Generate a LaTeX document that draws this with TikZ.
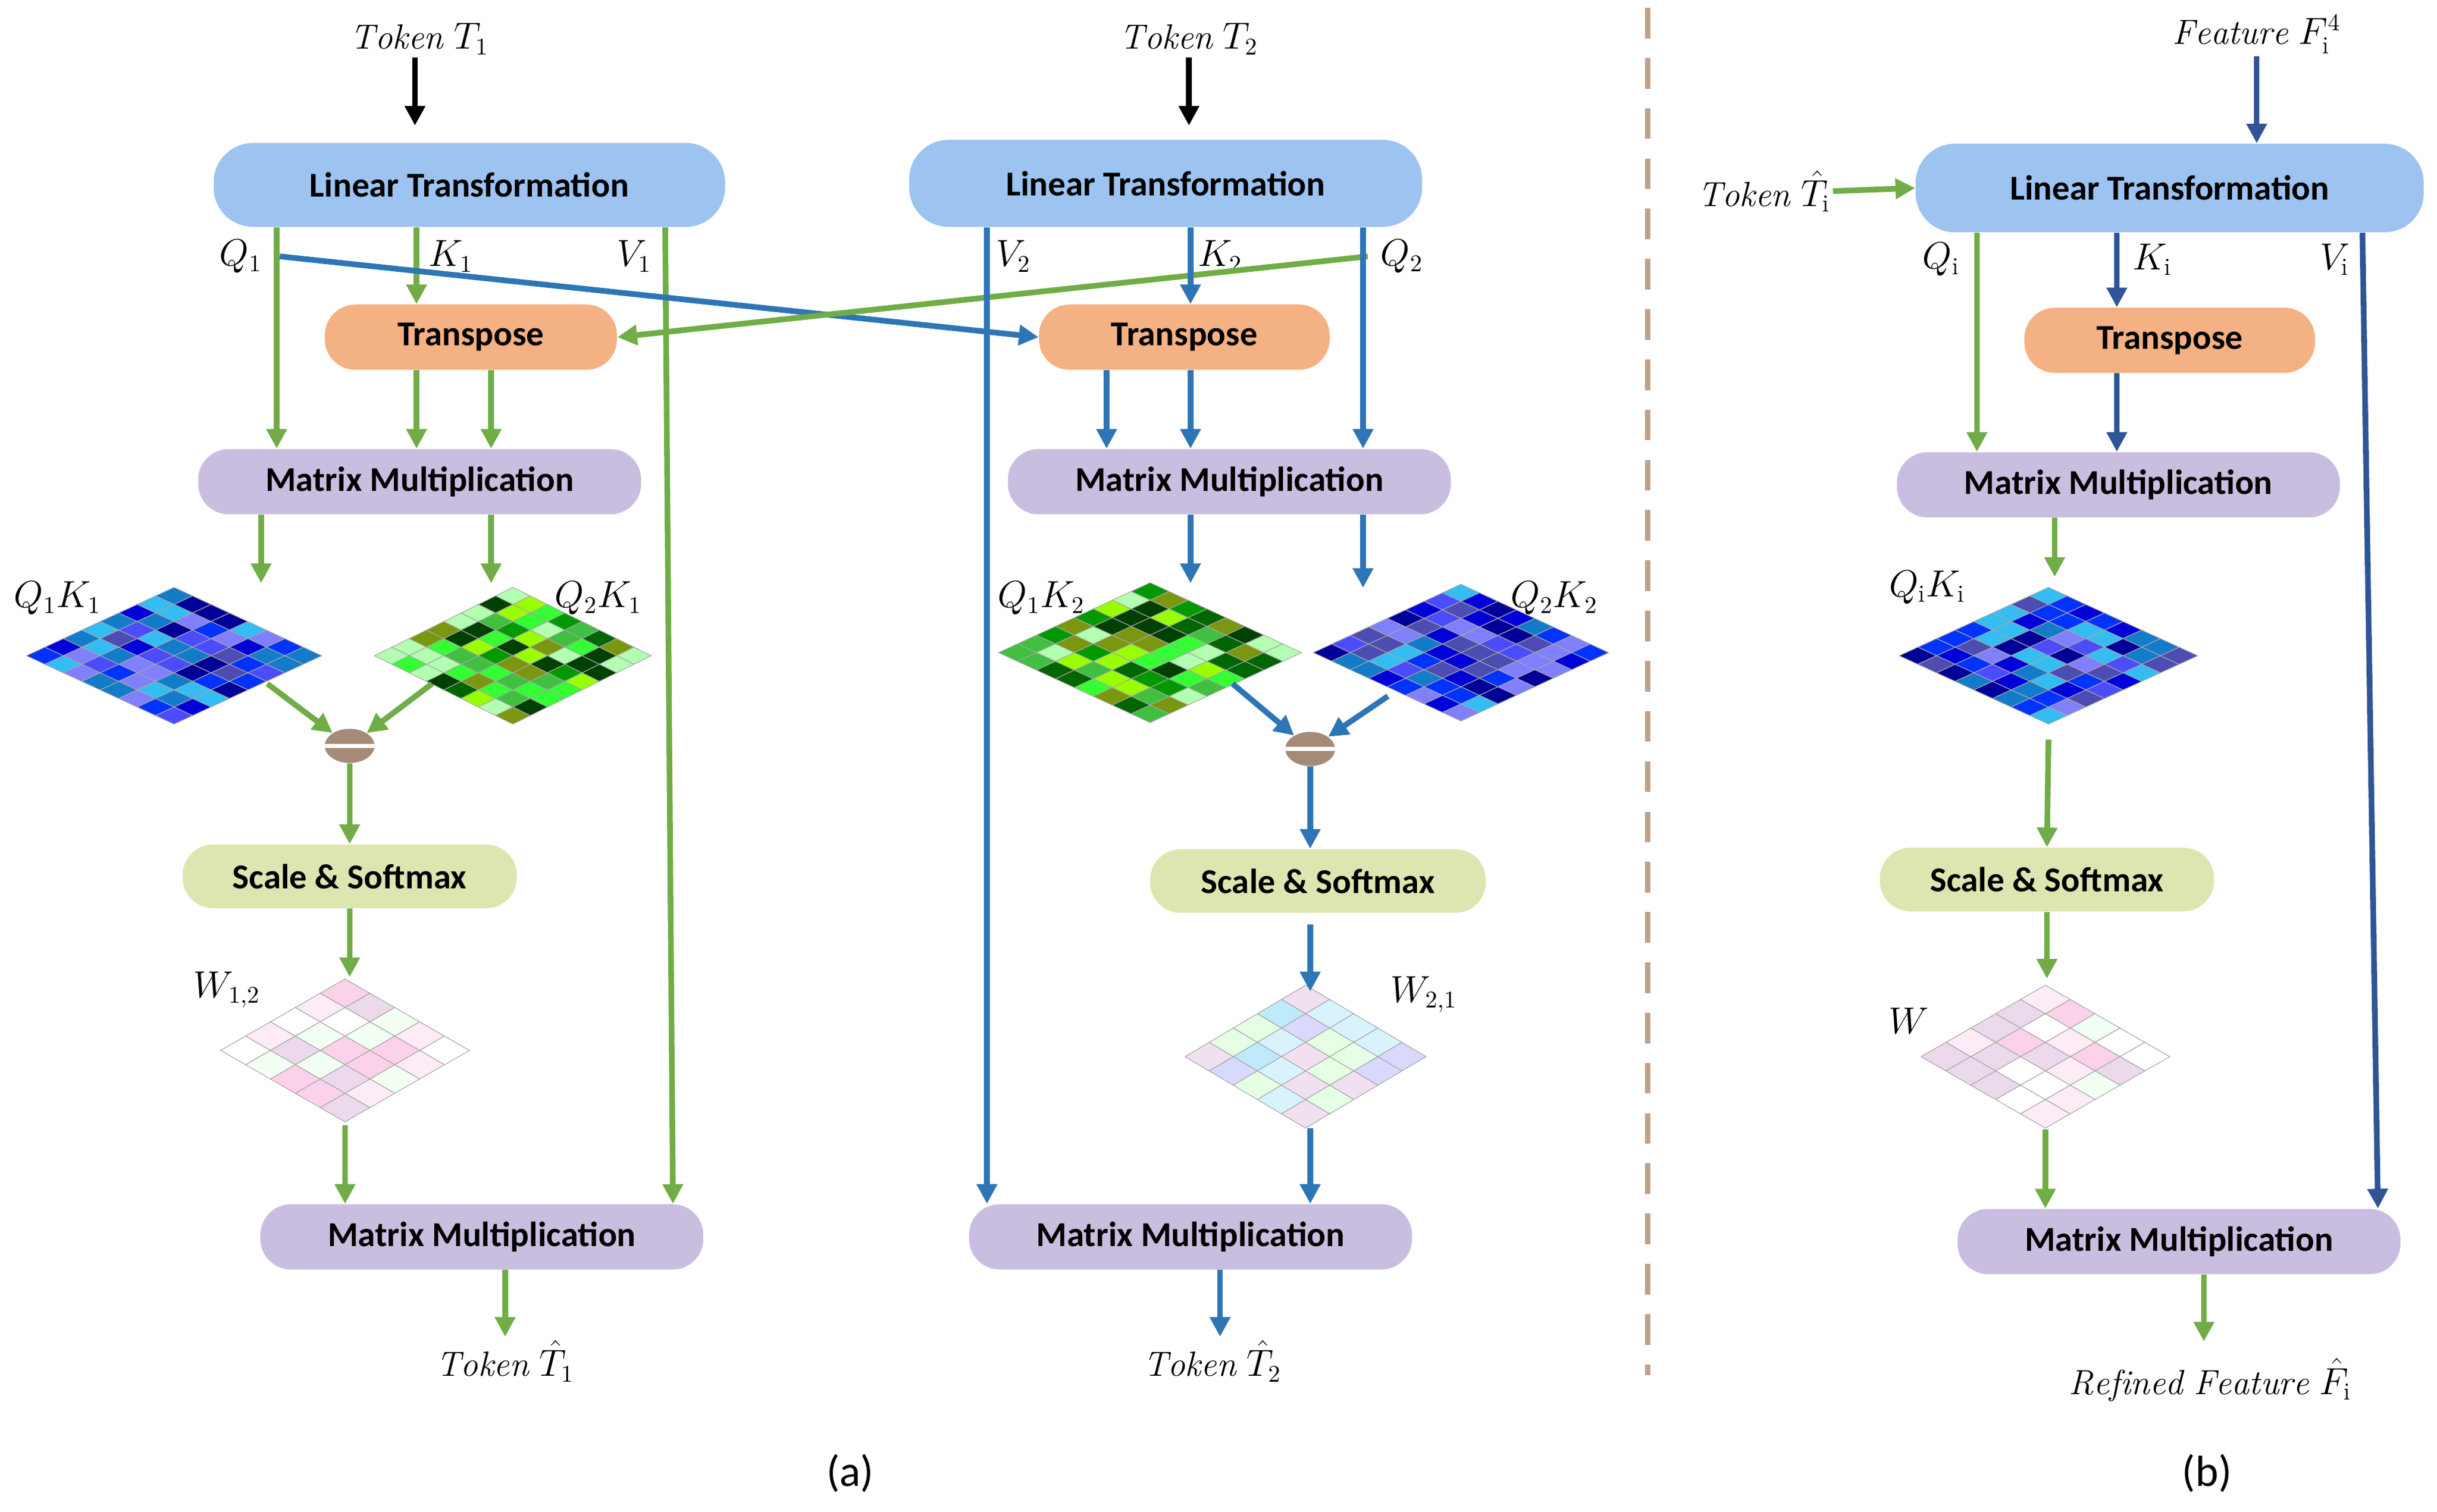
\documentclass[tikz,border=0pt]{standalone}
\usepackage{fontspec}
\newfontfamily\boxfont{Carlito}
\usetikzlibrary{arrows.meta,shapes.geometric}
\definecolor{gr}{HTML}{70AD47}
\definecolor{bl}{HTML}{2E75B6}
\definecolor{dbl}{HTML}{2F5597}
\definecolor{ltbox}{HTML}{9DC3F0}
\definecolor{trbox}{HTML}{F4B183}
\definecolor{mmbox}{HTML}{C9BEDF}
\definecolor{smbox}{HTML}{DCE6B0}
\definecolor{divc}{HTML}{C0A08A}
\definecolor{minc}{HTML}{A68A78}
\pgfmathdeclarerandomlist{blues}{{blue!70}{blue!85!black}{blue!50!white}{cyan!60!blue}{blue!40!gray}{blue!80!cyan}{cyan!80!white}{blue!60!black}}
\pgfmathdeclarerandomlist{greens}{{green!60!black}{green!40!black}{green!80!white}{green!30!white}{olive!70!green}{green!25!black}{lime!80!green}{green!50!gray}}
\pgfmathdeclarerandomlist{pinks}{{magenta!18}{magenta!8}{white}{violet!15}{green!5}}
\pgfmathdeclarerandomlist{cyans}{{cyan!25}{cyan!15}{violet!12}{blue!15}{green!10}}
% cx, cy, width, height, cells, colour list
\newcommand\mgrid[6]{%
  \begin{scope}[shift={(#1,#2)}]
    \pgfmathsetmacro\ax{#3/2/#5}
    \pgfmathsetmacro\ay{#4/2/#5}
    \foreach \i in {1,...,#5}{
      \foreach \j in {1,...,#5}{
        \pgfmathrandomitem{\mc}{#6}
        \filldraw[fill=\mc, draw=gray!70, line width=0.3pt]
          ({(\i-\j)*\ax},{-#4/2+(\i+\j-2)*\ay}) --
          ({(\i-\j+1)*\ax},{-#4/2+(\i+\j-1)*\ay}) --
          ({(\i-\j)*\ax},{-#4/2+(\i+\j)*\ay}) --
          ({(\i-\j-1)*\ax},{-#4/2+(\i+\j-1)*\ay}) -- cycle;
      }}
  \end{scope}}
\tikzset{
  box/.style={rounded corners=18pt, draw=none, inner sep=0pt,
    font=\boxfont\fontsize{16}{19}\selectfont\bfseries},
  lt/.style={box, fill=ltbox},
  tr/.style={box, fill=trbox, rounded corners=14pt},
  mm/.style={box, fill=mmbox, rounded corners=14pt},
  sm/.style={box, fill=smbox, rounded corners=14pt},
  lbl/.style={font=\fontsize{16}{19}\selectfont, inner sep=1pt},
  minus/.style={ellipse, fill=minc, minimum width=32*0.25mm, minimum height=22*0.25mm, inner sep=0pt,
    path picture={\draw[white,line width=2pt] (path picture bounding box.west) -- (path picture bounding box.east);}},
  ar/.style={line width=2.6pt, -{Triangle[length=9pt,width=9pt]}},
  ga/.style={ar, gr}, ba/.style={ar, bl}, da/.style={ar, dbl}, ka/.style={ar, black}
}
\begin{document}
\begin{tikzpicture}[x=0.25mm,y=-0.25mm]
\useasboundingbox (0,0) rectangle (1568,973);
\pgfmathsetseed{7}
% ---------- left branch
\node[lbl] (t1) at (270,25) {$\mathit{Token}\ T_1$};
\node[lt, minimum width=329*0.25mm, minimum height=54*0.25mm] (lt1) at (302,119) {Linear Transformation};
\node[tr, minimum width=188*0.25mm, minimum height=42*0.25mm] (tp1) at (303,217) {Transpose};
\node[mm, minimum width=285*0.25mm, minimum height=42*0.25mm] (mm1) at (270,310) {Matrix Multiplication};
\node[sm, minimum width=215*0.25mm, minimum height=41*0.25mm] (sm1) at (225,564) {Scale \& Softmax};
\node[mm, minimum width=285*0.25mm, minimum height=42*0.25mm] (mo1) at (310,796) {Matrix Multiplication};
\node[lbl] (o1) at (325,876) {$\mathit{Token}\ \hat{T}_1$};
\node[lbl] (q1) at (155,165) {$Q_1$};
\node[lbl] (k1) at (290,165) {$K_1$};
\node[lbl] (v1) at (408,165) {$V_1$};
\mgrid{112}{422}{190}{88}{8}{blues}
\mgrid{330}{422}{178}{88}{8}{greens}
\node[lbl] (l11) at (37,385) {$Q_1K_1$};
\node[lbl] (l21) at (385,385) {$Q_2K_1$};
\node[minus] (e1) at (225,480) {};
\mgrid{222}{676}{160}{92}{5}{pinks}
\node[lbl] (w12) at (146,637) {$W_{1,2}$};
% ---------- right branch
\node[lbl] (t2) at (765,25) {$\mathit{Token}\ T_2$};
\node[lt, minimum width=330*0.25mm, minimum height=56*0.25mm] (lt2) at (750,118) {Linear Transformation};
\node[tr, minimum width=187*0.25mm, minimum height=42*0.25mm] (tp2) at (762,217) {Transpose};
\node[mm, minimum width=285*0.25mm, minimum height=42*0.25mm] (mm2) at (791,310) {Matrix Multiplication};
\node[sm, minimum width=216*0.25mm, minimum height=41*0.25mm] (sm2) at (848,567) {Scale \& Softmax};
\node[mm, minimum width=285*0.25mm, minimum height=42*0.25mm] (mo2) at (766,796) {Matrix Multiplication};
\node[lbl] (o2) at (780,876) {$\mathit{Token}\ \hat{T}_2$};
\node[lbl] (v2) at (652,165) {$V_2$};
\node[lbl] (k2) at (785,165) {$K_2$};
\node[lbl] (q2) at (902,165) {$Q_2$};
\mgrid{740}{420}{195}{90}{8}{greens}
\mgrid{940}{420}{190}{88}{8}{blues}
\node[lbl] (l12) at (670,385) {$Q_1K_2$};
\node[lbl] (l22) at (1000,385) {$Q_2K_2$};
\node[minus] (e2) at (843,482) {};
\mgrid{840}{680}{155}{92}{5}{cyans}
\node[lbl] (w21) at (916,640) {$W_{2,1}$};
% ---------- divider
\draw[divc, line width=2.5pt, dash pattern=on 14pt off 9pt] (1060,5) -- (1060,885);
% ---------- panel b
\node[lbl] (fi) at (1452,22) {$\mathit{Feature}\ F_{\mathrm{i}}^{4}$};
\node[lbl] (ti) at (1135,123) {$\mathit{Token}\ \hat{T}_{\mathrm{i}}$};
\node[lt, minimum width=327*0.25mm, minimum height=57*0.25mm] (lt3) at (1396,121) {Linear Transformation};
\node[tr, minimum width=187*0.25mm, minimum height=42*0.25mm] (tp3) at (1396,219) {Transpose};
\node[mm, minimum width=285*0.25mm, minimum height=42*0.25mm] (mm3) at (1363,312) {Matrix Multiplication};
\node[sm, minimum width=215*0.25mm, minimum height=41*0.25mm] (sm3) at (1317,566) {Scale \& Softmax};
\node[mm, minimum width=285*0.25mm, minimum height=42*0.25mm] (mo3) at (1402,799) {Matrix Multiplication};
\node[lbl] (o3) at (1422,888) {$\mathit{Refined\ Feature}\ \hat{F}_{\mathrm{i}}$};
\node[lbl] (qi) at (1249,167) {$Q_{\mathrm{i}}$};
\node[lbl] (ki) at (1385,167) {$K_{\mathrm{i}}$};
\node[lbl] (vi) at (1502,167) {$V_{\mathrm{i}}$};
\mgrid{1318}{422}{192}{88}{8}{blues}
\node[lbl] (lii) at (1240,378) {$Q_{\mathrm{i}}K_{\mathrm{i}}$};
\mgrid{1316}{680}{160}{92}{5}{pinks}
\node[lbl] (w) at (1228,657) {$W$};
\node[font=\boxfont\fontsize{20}{24}\selectfont] (la) at (547,948) {(a)};
\node[font=\boxfont\fontsize{20}{24}\selectfont] (lb) at (1420,948) {(b)};
% ---------- connectors, left
\draw[ka] ([xshift=-3*0.25mm]t1.south) -- ++(0,44);
\draw[ga] ([xshift=-124*0.25mm]lt1.south) -- ([xshift=-92*0.25mm]mm1.north);
\draw[ga] ([xshift=-34*0.25mm]lt1.south) -- ([xshift=-35*0.25mm]tp1.north);
\draw[ga] ([xshift=126*0.25mm]lt1.south) -- ([xshift=123*0.25mm]mo1.north);
\draw[ba] (180,165) -- (tp2.west);
\draw[ga] (880,165) -- (tp1.east);
\draw[ga] ([xshift=-35*0.25mm]tp1.south) -- ([xshift=-2*0.25mm]mm1.north);
\draw[ga] ([xshift=13*0.25mm]tp1.south) -- ([xshift=46*0.25mm]mm1.north);
\draw[ga] ([xshift=-102*0.25mm]mm1.south) -- ++(0,44);
\draw[ga] ([xshift=46*0.25mm]mm1.south) -- ++(0,44);
\draw[ga] (172,440) -- (e1);
\draw[ga] (278,440) -- (e1);
\draw[ga] (e1.south) -- (sm1.north);
\draw[ga] (sm1.south) -- ++(0,44);
\draw[ga] (222,724) -- ([xshift=-88*0.25mm]mo1.north);
\draw[ga] ([xshift=15*0.25mm]mo1.south) -- ++(0,43);
% ---------- connectors, right
\draw[ka] (t2.south) -- ++(0,44);
\draw[ba] ([xshift=-115*0.25mm]lt2.south) -- ([xshift=-131*0.25mm]mo2.north);
\draw[ba] ([xshift=16*0.25mm]lt2.south) -- ([xshift=4*0.25mm]tp2.north);
\draw[ba] ([xshift=127*0.25mm]lt2.south) -- ([xshift=86*0.25mm]mm2.north);
\draw[ba] ([xshift=-50*0.25mm]tp2.south) -- ([xshift=-79*0.25mm]mm2.north);
\draw[ba] ([xshift=4*0.25mm]tp2.south) -- ([xshift=-25*0.25mm]mm2.north);
\draw[ba] ([xshift=-25*0.25mm]mm2.south) -- ++(0,44);
\draw[ba] ([xshift=86*0.25mm]mm2.south) -- ++(0,47);
\draw[ba] (793,440) -- (e2);
\draw[ba] (893,448) -- (e2);
\draw[ba] (e2.south) -- (e2.south |- sm2.north);
\draw[ba] (843,595) -- (843,638);
\draw[ba] (843,726) -- ([xshift=77*0.25mm]mo2.north);
\draw[ba] ([xshift=19*0.25mm]mo2.south) -- ++(0,43);
% ---------- connectors, b
\draw[da] (fi.south) -- (lt3.north -| fi.south);
\draw[ga] (ti.east) -- (lt3.west);
\draw[ga] ([xshift=-124*0.25mm]lt3.south) -- ([xshift=-91*0.25mm]mm3.north);
\draw[da] ([xshift=-34*0.25mm]lt3.south) -- ([xshift=-34*0.25mm]tp3.north);
\draw[da] ([xshift=124*0.25mm]lt3.south) -- ([xshift=128*0.25mm]mo3.north);
\draw[da] ([xshift=-34*0.25mm]tp3.south) -- ([xshift=-1*0.25mm]mm3.north);
\draw[ga] ([xshift=-41*0.25mm]mm3.south) -- ++(0,38);
\draw[ga] (1318,476) -- (sm3.north);
\draw[ga] (sm3.south) -- ++(0,43);
\draw[ga] (1316,727) -- ([xshift=-86*0.25mm]mo3.north);
\draw[ga] ([xshift=16*0.25mm]mo3.south) -- ++(0,43);
\end{tikzpicture}
\end{document}
